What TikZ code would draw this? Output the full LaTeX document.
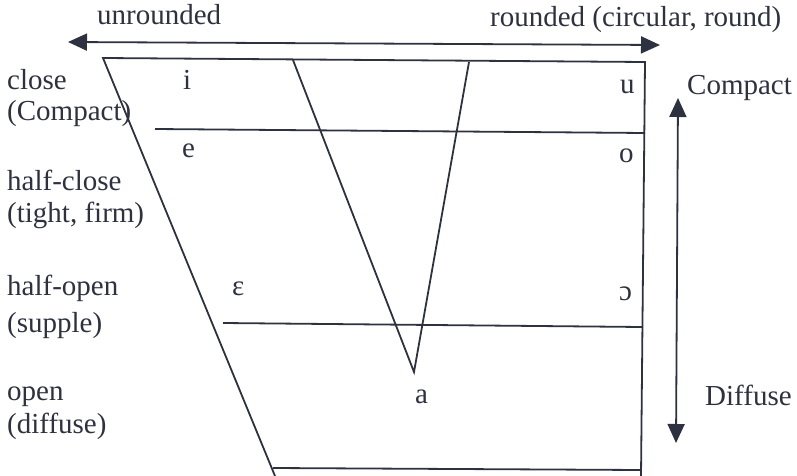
\documentclass[tikz,border=0pt]{standalone}
\usepackage{fontspec}
\setmainfont{Liberation Serif}
\usetikzlibrary{arrows.meta}
\definecolor{ink}{HTML}{2E3140}
\tikzset{
  frame/.style={draw=ink, line width=1.8pt},
  axis/.style={draw=ink, line width=1.8pt, {Triangle[length=19pt,width=17pt]}-{Triangle[length=19pt,width=17pt]}},
  lbl/.style={text=ink, inner sep=0pt, anchor=base west, font=\fontsize{29}{34}\selectfont},
}
\begin{document}
\begin{tikzpicture}[x=1pt,y=-1pt]
\useasboundingbox (0,0) rectangle (797,476);
% corners
\coordinate (tl) at (103,58);
\coordinate (tr) at (645,62);
\coordinate (br) at (641,476);
\coordinate (bl) at (275,476);
\coordinate (h1l) at (155,129);
\coordinate (h1r) at (645,133);
\coordinate (h2l) at (223,323);
\coordinate (h2r) at (642,327);
\coordinate (h3l) at (273,468);
\coordinate (h3r) at (641,470);
\coordinate (va) at (293,60);
\coordinate (vb) at (414,372);
\coordinate (vc) at (469,62);
\coordinate (al) at (68,42);
\coordinate (ar) at (660,45);
\coordinate (at) at (678,98);
\coordinate (ab) at (676,443);
% frame
\draw[frame] (bl) -- (tl) -- (tr) -- (br);
\draw[frame] (h1l) -- (h1r);
\draw[frame] (h2l) -- (h2r);
\draw[frame] (h3l) -- (h3r);
\draw[frame, line join=miter] (va) -- (vb) -- (vc);
% arrows
\draw[axis] (al) -- (ar);
\draw[axis] (ab) -- (at);
% labels
\node[lbl] (unr) at (97,25) {unrounded};
\node[lbl] (rnd) at (490,27) {rounded (circular, round)};
\node[lbl] (cl) at (7,90) {close};
\node[lbl] (clc) at (7,121) {(Compact)};
\node[lbl] (hc) at (7,190) {half-close};
\node[lbl] (hct) at (7,222) {(tight, firm)};
\node[lbl] (ho) at (7,295) {half-open};
\node[lbl] (hos) at (7,332) {(supple)};
\node[lbl] (op) at (7,400) {open};
\node[lbl] (opd) at (7,433) {(diffuse)};
\node[lbl] (vi) at (183,90) {i};
\node[lbl] (ve) at (182,157) {e};
\node[lbl] (veps) at (232,295) {ε};
\node[lbl] (va2) at (415,403) {a};
\node[lbl] (vu) at (620,94) {u};
\node[lbl] (vo) at (619,162) {o};
\node[lbl] (vopen) at (619,300) {ɔ};
\node[lbl] (cmp) at (687,95) {Compact};
\node[lbl] (dif) at (705,405) {Diffuse};
\end{tikzpicture}
\end{document}
